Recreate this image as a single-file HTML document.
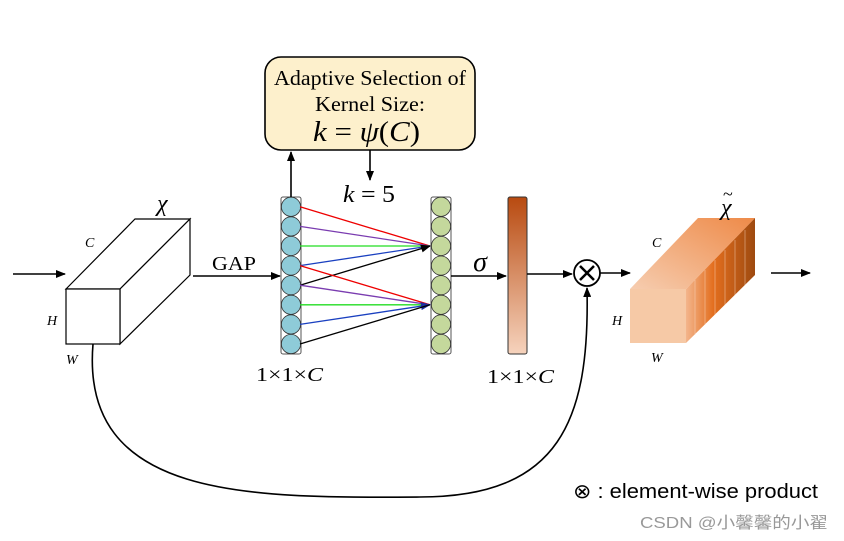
<!DOCTYPE html>
<html><head><meta charset="utf-8"><style>
body{margin:0;background:#fff}
svg{display:block}
text{font-family:"Liberation Serif",serif}
</style></head><body>
<svg width="844" height="541" viewBox="0 0 844 541" xmlns="http://www.w3.org/2000/svg">
<defs>
<marker id="a" markerWidth="10" markerHeight="8" refX="9" refY="4" orient="auto" markerUnits="userSpaceOnUse"><path d="M0,0 L10,4 L0,8 z" fill="#000"/></marker>
<marker id="ab" markerWidth="10" markerHeight="8" refX="9" refY="4" orient="auto" markerUnits="userSpaceOnUse"><path d="M0,0 L10,4 L0,8 z" fill="#2030a0"/></marker>
<linearGradient id="bar" x1="0" y1="0" x2="0" y2="1"><stop offset="0" stop-color="#b84a10"/><stop offset="1" stop-color="#f6d3bd"/></linearGradient>
<linearGradient id="side" x1="0" y1="0" x2="1" y2="0"><stop offset="0" stop-color="#f3b58c"/><stop offset="0.4" stop-color="#e36e1e"/><stop offset="1" stop-color="#9e4a10"/></linearGradient>
<linearGradient id="top" x1="0" y1="1" x2="1" y2="0"><stop offset="0" stop-color="#f6cdb0"/><stop offset="1" stop-color="#ee8a48"/></linearGradient>
</defs>
<line x1="13" y1="274" x2="65" y2="274" stroke="#000" stroke-width="1.6" marker-end="url(#a)"/>
<g fill="#fff" stroke="#000" stroke-width="1.2">
<polygon points="66,289 135,219 190,219 120,289"/>
<polygon points="120,289 190,219 190,275 120,344"/>
<rect x="66" y="289" width="54" height="55"/>
</g>
<text x="157" y="211" font-size="24" font-style="italic">χ</text>
<text x="85" y="247" font-size="14" font-style="italic">C</text>
<text x="47" y="325" font-size="14" font-style="italic">H</text>
<text x="66" y="364" font-size="14" font-style="italic">W</text>
<line x1="193" y1="276" x2="280" y2="276" stroke="#000" stroke-width="1.6" marker-end="url(#a)"/>
<text x="212" y="270" font-size="20" textLength="44" lengthAdjust="spacingAndGlyphs">GAP</text>
<rect x="281" y="197" width="20" height="157" rx="2" fill="#fff" stroke="#555"/>
<g fill="#8ecbd8" stroke="#333" stroke-width="0.8">
<circle cx="291" cy="206.8" r="9.6"/><circle cx="291" cy="226.4" r="9.6"/><circle cx="291" cy="246" r="9.6"/><circle cx="291" cy="265.6" r="9.6"/><circle cx="291" cy="285.2" r="9.6"/><circle cx="291" cy="304.8" r="9.6"/><circle cx="291" cy="324.4" r="9.6"/><circle cx="291" cy="344" r="9.6"/>
</g>
<rect x="431" y="197" width="20" height="157" rx="2" fill="#fff" stroke="#555"/>
<g fill="#c4d89c" stroke="#333" stroke-width="0.8">
<circle cx="441" cy="206.8" r="9.6"/><circle cx="441" cy="226.4" r="9.6"/><circle cx="441" cy="246" r="9.6"/><circle cx="441" cy="265.6" r="9.6"/><circle cx="441" cy="285.2" r="9.6"/><circle cx="441" cy="304.8" r="9.6"/><circle cx="441" cy="324.4" r="9.6"/><circle cx="441" cy="344" r="9.6"/>
</g>
<g stroke-width="1.3">
<line x1="300" y1="206.8" x2="430" y2="246" stroke="#e00"/>
<line x1="300" y1="226.4" x2="430" y2="246" stroke="#7a3cb0"/>
<line x1="300" y1="246" x2="430" y2="246" stroke="#2d2"/>
<line x1="300" y1="265.6" x2="430" y2="246" stroke="#1a40c0"/>
<line x1="300" y1="285.2" x2="430" y2="246" stroke="#000" marker-end="url(#a)"/>
<line x1="300" y1="265.6" x2="430" y2="304.8" stroke="#e00"/>
<line x1="300" y1="285.2" x2="430" y2="304.8" stroke="#7a3cb0"/>
<line x1="300" y1="304.8" x2="430" y2="304.8" stroke="#2d2"/>
<line x1="300" y1="324.4" x2="430" y2="304.8" stroke="#1a40c0" marker-end="url(#ab)"/>
<line x1="300" y1="344" x2="430" y2="304.8" stroke="#000"/>
</g>
<line x1="291" y1="197" x2="291" y2="152" stroke="#000" stroke-width="1.6" marker-end="url(#a)"/>
<rect x="265" y="57" width="210" height="93" rx="16" fill="#fdf0cc" stroke="#000" stroke-width="1.6"/>
<text x="274" y="85" font-size="21" textLength="192" lengthAdjust="spacingAndGlyphs">Adaptive Selection of</text>
<text x="315" y="111" font-size="21" textLength="110" lengthAdjust="spacingAndGlyphs">Kernel Size:</text>
<text x="313" y="141" font-size="28" textLength="107" lengthAdjust="spacingAndGlyphs"><tspan font-style="italic">k</tspan> = <tspan font-style="italic">ψ</tspan>(<tspan font-style="italic">C</tspan>)</text>
<line x1="370" y1="150" x2="370" y2="180" stroke="#000" stroke-width="1.6" marker-end="url(#a)"/>
<text x="343" y="202" font-size="24" textLength="52" lengthAdjust="spacingAndGlyphs"><tspan font-style="italic">k</tspan> = 5</text>
<text x="256" y="381" font-size="20" textLength="67" lengthAdjust="spacingAndGlyphs">1×1×<tspan font-style="italic">C</tspan></text>
<line x1="451" y1="276" x2="506" y2="276" stroke="#000" stroke-width="1.6" marker-end="url(#a)"/>
<text x="480" y="271" font-size="28" font-style="italic" text-anchor="middle">σ</text>
<rect x="508" y="197" width="19" height="157" rx="2" fill="url(#bar)" stroke="#333"/>
<text x="487" y="383" font-size="20" textLength="67" lengthAdjust="spacingAndGlyphs">1×1×<tspan font-style="italic">C</tspan></text>
<line x1="527" y1="274" x2="572" y2="274" stroke="#000" stroke-width="1.6" marker-end="url(#a)"/>
<circle cx="587" cy="273" r="13" fill="#fff" stroke="#000" stroke-width="1.8"/>
<path d="M580,266 L594,280 M594,266 L580,280" stroke="#000" stroke-width="2.5"/>
<line x1="600" y1="273" x2="630" y2="273" stroke="#000" stroke-width="1.6" marker-end="url(#a)"/>
<path d="M93,344 C80,500 250,498 420,497 C560,497 590,420 587,288" fill="none" stroke="#000" stroke-width="1.6" marker-end="url(#a)"/>
<polygon points="630,289 698,218 755,218 686,289" fill="url(#top)"/>
<polygon points="686,289 755,218 755,275 686,343" fill="url(#side)"/>
<rect x="630" y="289" width="56" height="54" fill="#f6c9a6"/>
<g stroke="#fbe0cc" stroke-width="0.6" opacity="0.7">
<line x1="695" y1="280" x2="695" y2="335"/><line x1="705" y1="270" x2="705" y2="325"/><line x1="715" y1="260" x2="715" y2="315"/><line x1="725" y1="250" x2="725" y2="305"/><line x1="735" y1="240" x2="735" y2="295"/><line x1="745" y1="230" x2="745" y2="285"/>
</g>
<text x="721" y="215" font-size="24" font-style="italic">χ</text>
<text x="723" y="200" font-size="18">~</text>
<text x="652" y="247" font-size="14" font-style="italic">C</text>
<text x="612" y="325" font-size="14" font-style="italic">H</text>
<text x="651" y="362" font-size="14" font-style="italic">W</text>
<line x1="771" y1="273" x2="810" y2="273" stroke="#000" stroke-width="1.6" marker-end="url(#a)"/>
<text x="573" y="498" font-size="20" textLength="245" lengthAdjust="spacingAndGlyphs" style="font-family:'Liberation Sans','DejaVu Sans',sans-serif">⊗ : element-wise product</text>
<text x="640" y="528" font-size="16" fill="#999" textLength="188" lengthAdjust="spacingAndGlyphs" style="font-family:'Liberation Sans','Noto Sans CJK SC',sans-serif">CSDN @小馨馨的小翟</text>
</svg>
</body></html>
